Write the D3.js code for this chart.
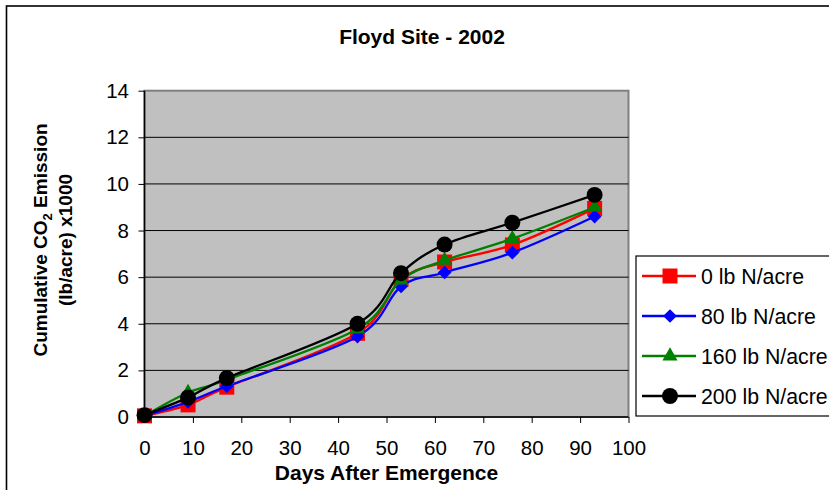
<!DOCTYPE html>
<html>
<head>
<meta charset="utf-8">
<script src="https://cdn.jsdelivr.net/npm/d3@7"></script>
<style>
  html, body { margin: 0; padding: 0; background: #fff; }
  svg { display: block; font-family: "Liberation Sans", Arial, sans-serif; }
</style>
</head>
<body>
<svg id="chart" width="829" height="490"></svg>
<script>
// Days after emergence at which cumulative CO2 was measured
const days = [0, 9, 17, 44, 53, 62, 76, 93];

// Cumulative CO2 emission (lb/acre x1000) per nitrogen rate
const n0   = [0.05, 0.52, 1.28, 3.59, 5.90, 6.65, 7.38, 8.95];
const n80  = [0.05, 0.65, 1.32, 3.45, 5.60, 6.20, 7.05, 8.60];
const n160 = [0.05, 1.05, 1.60, 3.78, 5.87, 6.72, 7.65, 9.00];
const n200 = [0.08, 0.84, 1.67, 4.00, 6.17, 7.40, 8.34, 9.53];

const seriesNames = ["0 lb N/acre", "80 lb N/acre", "160 lb N/acre", "200 lb N/acre"];
const xTicks = [0, 10, 20, 30, 40, 50, 60, 70, 80, 90, 100];
const yTicks = [0, 2, 4, 6, 8, 10, 12, 14];

const series = [
  { name: seriesNames[0], values: n0,   color: "#FF0000", symbol: "square" },
  { name: seriesNames[1], values: n80,  color: "#0000FF", symbol: "diamond" },
  { name: seriesNames[2], values: n160, color: "#008000", symbol: "triangle" },
  { name: seriesNames[3], values: n200, color: "#000000", symbol: "circle" }
];

const svg = d3.select("#chart");
const W = 829, H = 490;

const plot = { left: 144.5, right: 628.5, top: 90.7, bottom: 417 };
const x = d3.scaleLinear().domain([0, 100]).range([plot.left, plot.right]);
const y = d3.scaleLinear().domain([0, 14]).range([plot.bottom, plot.top]);

// chart background and outer frame
svg.append("rect").attr("width", W).attr("height", H).attr("fill", "#fff");
svg.append("rect")
  .attr("x", 6.5).attr("y", 6).attr("width", W + 20).attr("height", H + 20)
  .attr("fill", "none").attr("stroke", "#000").attr("stroke-width", 1.6);

// title
svg.append("text")
  .attr("x", 422).attr("y", 36).attr("dy", "0.36em")
  .attr("text-anchor", "middle")
  .attr("font-size", 21).attr("font-weight", "bold")
  .text("Floyd Site - 2002");

// plot area
svg.append("rect")
  .attr("x", plot.left).attr("y", plot.top)
  .attr("width", plot.right - plot.left).attr("height", plot.bottom - plot.top)
  .attr("fill", "#C0C0C0").attr("stroke", "#808080").attr("stroke-width", 2);

// horizontal gridlines
svg.append("g")
  .selectAll("line")
  .data(yTicks.filter(v => v > 0 && v < 14))
  .join("line")
  .attr("x1", plot.left).attr("x2", plot.right)
  .attr("y1", d => y(d)).attr("y2", d => y(d))
  .attr("stroke", "#000").attr("stroke-width", 1);

// axes
const gx = svg.append("g")
  .attr("transform", `translate(0,${plot.bottom})`)
  .call(d3.axisBottom(x).tickValues(xTicks).tickSize(6).tickPadding(17).tickFormat(d3.format("d")));
const gy = svg.append("g")
  .attr("transform", `translate(${plot.left},0)`)
  .call(d3.axisLeft(y).tickValues(yTicks).tickSize(6).tickPadding(9.5).tickFormat(d3.format("d")));

[gx, gy].forEach(g => {
  g.select(".domain").attr("stroke", "#000").attr("stroke-width", 1.5);
  g.selectAll(".tick line").attr("stroke", "#000").attr("stroke-width", 1);
  g.selectAll(".tick text")
    .attr("font-family", "Liberation Sans, Arial, sans-serif")
    .attr("font-size", 20.5).attr("fill", "#000");
});
gx.select(".domain").attr("d", `M${plot.left},0H${plot.right}`);
gy.select(".domain").attr("d", `M0,${plot.bottom}V${plot.top}`);

// axis titles
svg.append("text")
  .attr("x", (plot.left + plot.right) / 2).attr("y", 472).attr("dy", "0.36em")
  .attr("text-anchor", "middle")
  .attr("font-size", 21).attr("font-weight", "bold")
  .text("Days After Emergence");

const yTitle = svg.append("g")
  .attr("transform", "translate(0,240) rotate(-90)");
const line1 = yTitle.append("text")
  .attr("x", 0).attr("y", 40).attr("dy", "0.36em")
  .attr("text-anchor", "middle")
  .attr("font-size", 19).attr("font-weight", "bold");
line1.append("tspan").text("Cumulative CO");
line1.append("tspan").attr("font-size", 13).attr("dy", 5).text("2");
line1.append("tspan").attr("dy", -5).text(" Emission");
yTitle.append("text")
  .attr("x", 0).attr("y", 65).attr("dy", "0.36em")
  .attr("text-anchor", "middle")
  .attr("font-size", 19).attr("font-weight", "bold")
  .text("(lb/acre) x1000");

// marker symbols
const symbolFor = {
  square:   d3.symbol().type(d3.symbolSquare).size(225),
  diamond:  d3.symbol().type(d3.symbolDiamond2).size(120),
  triangle: d3.symbol().type(d3.symbolTriangle2).size(165),
  circle:   d3.symbol().type(d3.symbolCircle).size(200)
};

const lineGen = d3.line()
  .x(d => x(d[0]))
  .y(d => y(d[1]))
  .curve(d3.curveCardinal.tension(0));

series.forEach(s => {
  const pts = days.map((d, i) => [d, s.values[i]]);
  const g = svg.append("g");
  g.append("path")
    .datum(pts)
    .attr("d", lineGen)
    .attr("fill", "none")
    .attr("stroke", s.color)
    .attr("stroke-width", 2.3);
  g.selectAll("path.marker")
    .data(pts)
    .join("path")
    .attr("class", "marker")
    .attr("transform", d => `translate(${x(d[0])},${y(d[1])})`)
    .attr("d", symbolFor[s.symbol]())
    .attr("fill", s.color);
});

// legend
const legend = svg.append("g");
legend.append("rect")
  .attr("x", 636).attr("y", 256).attr("width", 260).attr("height", 160)
  .attr("fill", "#fff").attr("stroke", "#000").attr("stroke-width", 1.2);
series.forEach((s, i) => {
  const ly = 276 + i * 40;
  legend.append("line")
    .attr("x1", 642).attr("x2", 696).attr("y1", ly).attr("y2", ly)
    .attr("stroke", s.color).attr("stroke-width", 2.3);
  legend.append("path")
    .attr("transform", `translate(670,${ly})`)
    .attr("d", symbolFor[s.symbol]())
    .attr("fill", s.color);
  legend.append("text")
    .attr("x", 701).attr("y", ly).attr("dy", "0.36em")
    .attr("font-size", 21.3)
    .text(s.name);
});
</script>
</body>
</html>
